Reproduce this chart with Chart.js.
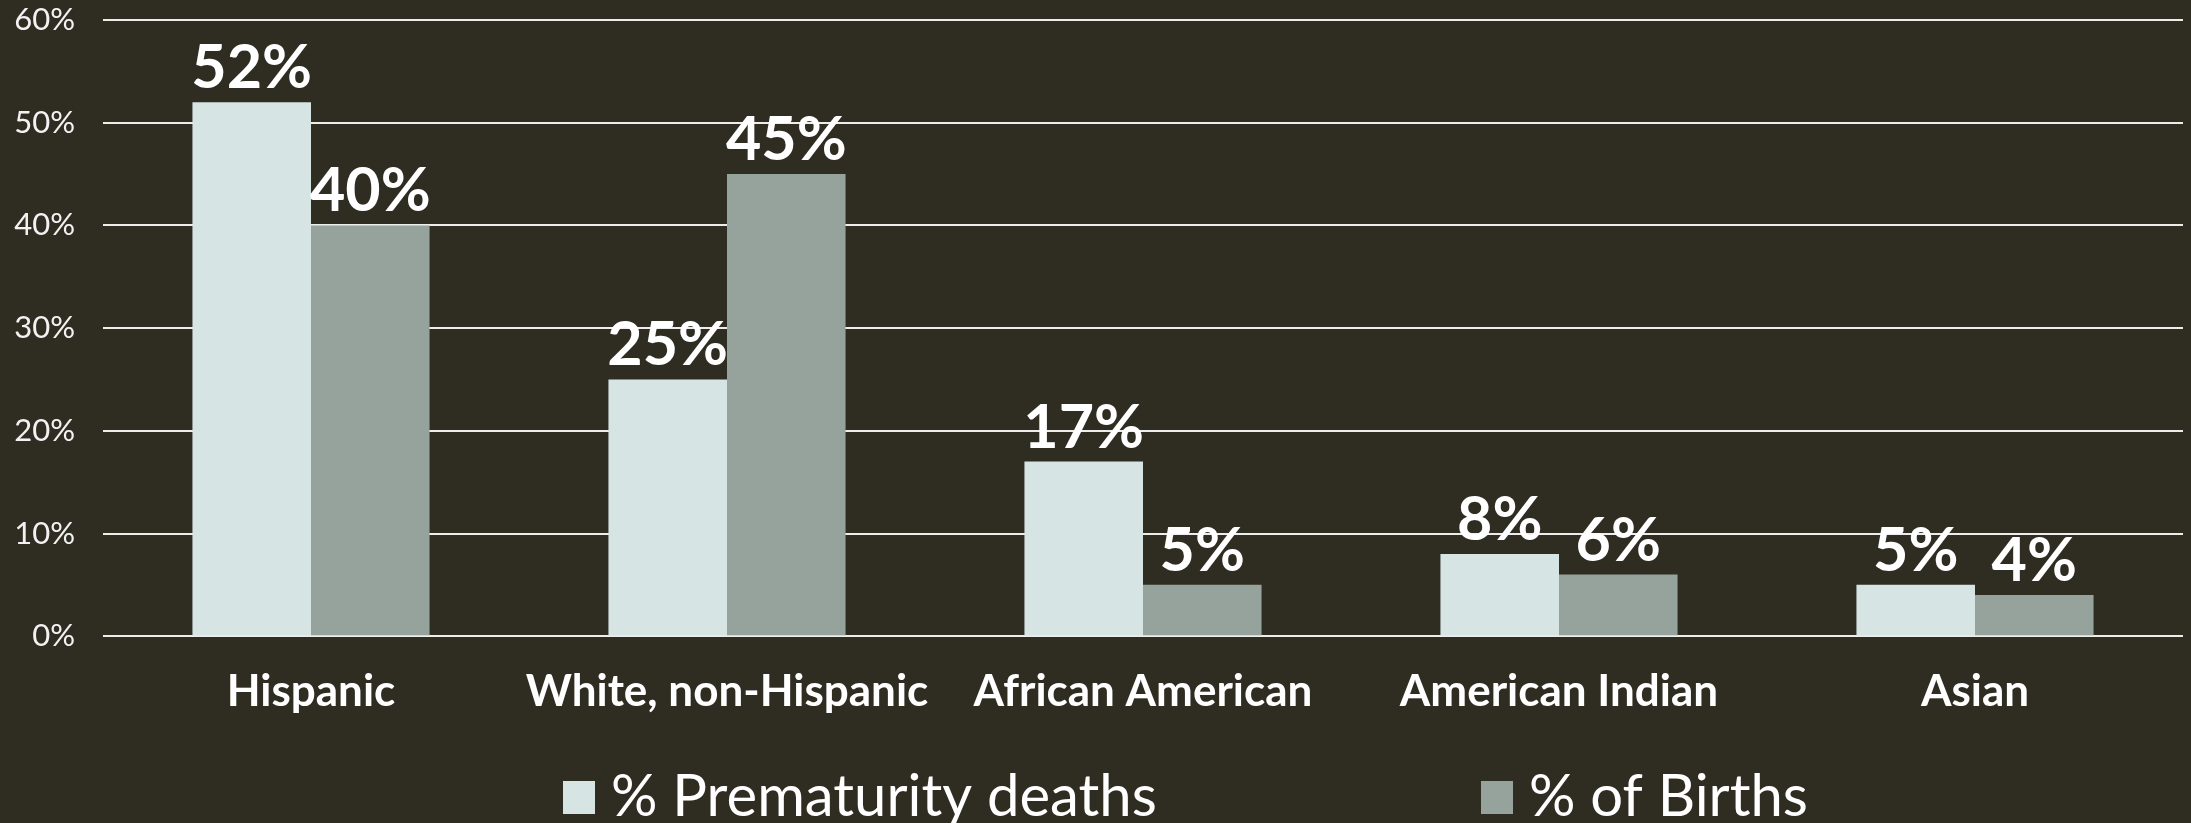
<!DOCTYPE html>
<html>
<head>
<meta charset="utf-8">
<script src="https://cdn.jsdelivr.net/npm/chart.js@4/dist/chart.umd.min.js"></script>
<style>
  html, body { margin: 0; padding: 0; background: #2F2C22; }
  #wrap { width: 2191px; height: 823px; }
</style>
</head>
<body>
<div id="wrap"><canvas id="chart"></canvas></div>
<script>
const categories = ['Hispanic', 'White, non-Hispanic', 'African American', 'American Indian', 'Asian'];
const prematurityDeaths = [52, 25, 17, 8, 5];
const births = [40, 45, 5, 6, 4];
const seriesNames = ['% Prematurity deaths', '% of Births'];
const yTicks = [0, 10, 20, 30, 40, 50, 60];

const BG = '#2F2C22';
const LIGHT = '#D7E4E4';
const DARK = '#95A39C';
const FONT = 'Lato, "Open Sans", sans-serif';

// value labels above each bar
const valueLabels = {
  id: 'valueLabels',
  afterDatasetsDraw(chart) {
    const ctx = chart.ctx;
    ctx.save();
    ctx.fillStyle = '#FFFFFF';
    ctx.font = 'bold 61px ' + FONT;
    ctx.textAlign = 'center';
    ctx.textBaseline = 'alphabetic';
    chart.data.datasets.forEach((ds, i) => {
      chart.getDatasetMeta(i).data.forEach((bar, j) => {
        ctx.fillText(ds.data[j] + '%', bar.x, bar.y - 14);
      });
    });
    ctx.restore();
  }
};

// legend spread wide along the bottom, as in the original
const wideLegend = {
  id: 'wideLegend',
  afterDraw(chart) {
    const ctx = chart.ctx;
    const starts = [563, 1481];
    const cy = 797;
    ctx.save();
    ctx.font = '58px ' + FONT;
    ctx.textBaseline = 'middle';
    ctx.textAlign = 'left';
    chart.data.datasets.forEach((ds, i) => {
      const x = starts[i];
      ctx.fillStyle = ds.backgroundColor;
      ctx.fillRect(x, cy - 16, 32, 33);
      ctx.fillStyle = '#FFFFFF';
      ctx.fillText(ds.label, x + 48, cy);
    });
    ctx.restore();
  }
};

const background = {
  id: 'background',
  beforeDraw(chart) {
    const ctx = chart.ctx;
    ctx.save();
    ctx.fillStyle = BG;
    ctx.fillRect(0, 0, chart.width, chart.height);
    ctx.restore();
  }
};

new Chart(document.getElementById('chart'), {
  type: 'bar',
  data: {
    labels: categories,
    datasets: [
      { label: seriesNames[0], data: prematurityDeaths, backgroundColor: LIGHT },
      { label: seriesNames[1], data: births, backgroundColor: DARK }
    ]
  },
  options: {
    responsive: true,
    maintainAspectRatio: false,
    animation: false,
    layout: { padding: { left: 0, right: 8, top: 0, bottom: 76 } },
    datasets: { bar: { barPercentage: 1.0, categoryPercentage: 0.57 } },
    plugins: {
      legend: { display: false },
      tooltip: { enabled: false }
    },
    scales: {
      x: {
        grid: { display: false, drawTicks: false },
        border: { display: false },
        ticks: {
          color: '#FFFFFF',
          padding: 29,
          maxRotation: 0,
          autoSkip: false,
          font: { family: FONT, size: 44, weight: 'bold' }
        }
      },
      y: {
        min: yTicks[0],
        max: yTicks[yTicks.length - 1],
        afterBuildTicks(scale) { scale.ticks = yTicks.map(v => ({ value: v })); },
        afterFit(scale) {
          scale.width = 103;
          scale.paddingTop = 20;
          scale.paddingBottom = 16;
        },
        grid: { color: '#EDEDED', lineWidth: 2, drawTicks: false },
        border: { display: false },
        ticks: {
          color: '#F2F2F2',
          padding: 28,
          font: { family: FONT, size: 31 },
          callback: v => v + '%'
        }
      }
    }
  },
  plugins: [background, valueLabels, wideLegend]
});
</script>
</body>
</html>
